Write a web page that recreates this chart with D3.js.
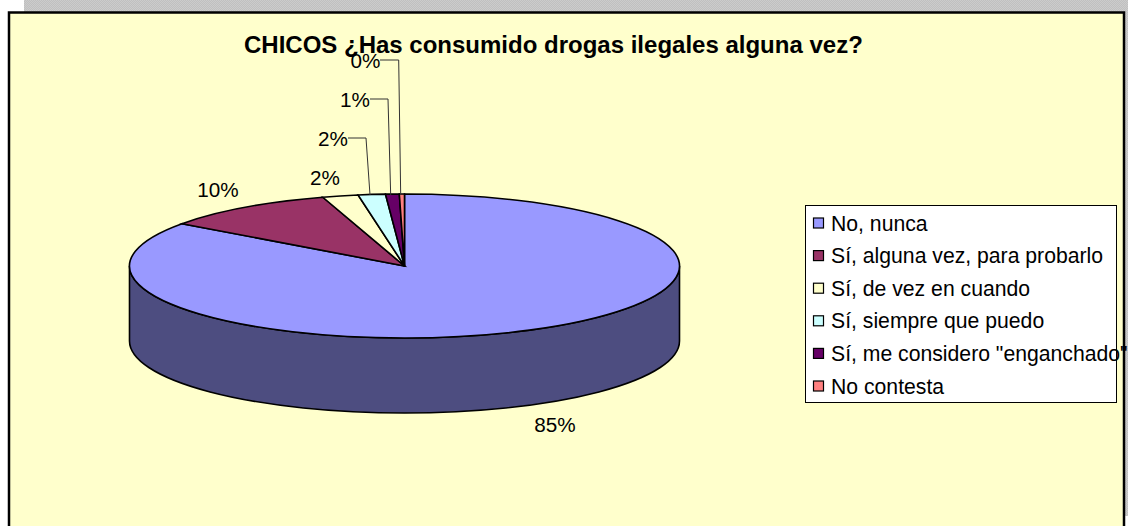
<!DOCTYPE html>
<html lang="es">
<head>
<meta charset="utf-8">
<title>CHICOS</title>
<script src="https://d3js.org/d3.v7.min.js"></script>
<style>
    html, body { margin: 0; padding: 0; background: #fff; }
    svg { display: block; }
    text { font-family: "Liberation Sans", Arial, sans-serif; fill: #000; }
</style>
</head>
<body>
<svg id="mainsvg" width="1128" height="526"></svg>
<script>
    // values, the printed labels are these rounded
    const categories = ['No, nunca', 'Sí, alguna vez, para probarlo', 'Sí, de vez en cuando',
        'Sí, siempre que puedo', 'Sí, me considero "enganchado"', 'No contesta'];
    const values = [85.0, 10.2, 2.1, 1.6, 0.8, 0.3];
    const colors = ['#9999ff', '#993366', '#ffffcc', '#ccffff', '#660066', '#ff8080'];
    const titleText = 'CHICOS ¿Has consumido drogas ilegales alguna vez?';

    const svg = d3.select('#mainsvg');
    const cx = 404.5, cy = 266, rx = 275, ry = 72, depth = 75;

    // grey dithered page behind the frame
    const pat = svg.append('defs').append('pattern')
        .attr('id', 'dither').attr('width', 2).attr('height', 2)
        .attr('patternUnits', 'userSpaceOnUse');
    pat.append('rect').attr('width', 2).attr('height', 2).attr('fill', '#c0c0c0');
    pat.append('rect').attr('width', 1).attr('height', 1).attr('fill', '#cccccc');
    pat.append('rect').attr('x', 1).attr('y', 1).attr('width', 1).attr('height', 1).attr('fill', '#cccccc');

    svg.append('rect').attr('x', 24).attr('y', 0).attr('width', 1104).attr('height', 516)
        .attr('fill', 'url(#dither)');

    // chart area
    svg.append('rect').attr('x', 9).attr('y', 12.5).attr('width', 1115).attr('height', 530)
        .attr('fill', '#ffffcc').attr('stroke', '#000').attr('stroke-width', 2.5);

    // 3d side wall, only the big slice shows at the front
    const wall = `M${cx - rx},${cy} L${cx - rx},${cy + depth} A${rx},${ry} 0 0 0 ${cx + rx},${cy + depth} L${cx + rx},${cy} A${rx},${ry} 0 0 1 ${cx - rx},${cy} Z`;
    svg.append('path').attr('d', wall)
        .attr('fill', '#4d4d80').attr('stroke', '#000').attr('stroke-width', 1.6);

    // top of the pie, a flattened d3 pie
    const pie = d3.pie().sort(null);
    const arc = d3.arc().innerRadius(0).outerRadius(rx);
    svg.append('g')
        .attr('transform', `translate(${cx},${cy}) scale(1,${ry / rx})`)
        .selectAll('path')
        .data(pie(values))
        .enter().append('path')
        .attr('d', arc)
        .attr('fill', (d, i) => colors[i])
        .attr('stroke', '#000')
        .attr('stroke-width', 1.6)
        .attr('vector-effect', 'non-scaling-stroke');

    // title
    svg.append('text').attr('x', 553.4).attr('y', 53)
        .attr('text-anchor', 'middle')
        .attr('font-size', 24).attr('font-weight', 'bold')
        .text(titleText);

    // data labels, [x, baseline y] per slice
    const labelPos = [[555, 432], [218, 197], [325, 185], [333, 146], [355, 107], [365.5, 68]];
    svg.append('g').selectAll('text')
        .data(values)
        .enter().append('text')
        .attr('x', (d, i) => labelPos[i][0])
        .attr('y', (d, i) => labelPos[i][1])
        .attr('text-anchor', 'middle')
        .attr('font-size', 20.7)
        .text(d => d3.format('.0f')(d) + '%');

    // leader lines for the three thin slices
    const leaders = [
        [[348, 138], [366, 138], [370, 195]],
        [[370, 99], [388, 99], [390.7, 195]],
        [[380, 60], [398.7, 60], [400.7, 195]]
    ];
    svg.append('g').selectAll('path')
        .data(leaders)
        .enter().append('path')
        .attr('d', d3.line())
        .attr('fill', 'none')
        .attr('stroke', '#333')
        .attr('stroke-width', 1);

    // legend
    const legend = svg.append('g');
    legend.append('rect').attr('x', 805.5).attr('y', 205.5).attr('width', 311).attr('height', 197)
        .attr('fill', '#fff').attr('stroke', '#000');
    const rows = legend.selectAll('g')
        .data(categories)
        .enter().append('g')
        .attr('transform', (d, i) => `translate(813,${223.5 + i * 32.6})`);
    rows.append('rect')
        .attr('x', 0.5).attr('y', -5.5).attr('width', 10).attr('height', 10)
        .attr('fill', (d, i) => colors[i]).attr('stroke', '#000').attr('stroke-width', 1.2);
    rows.append('text')
        .attr('x', 18).attr('y', 7)
        .attr('font-size', 21.2)
        .text(d => d);
</script>
</body>
</html>
